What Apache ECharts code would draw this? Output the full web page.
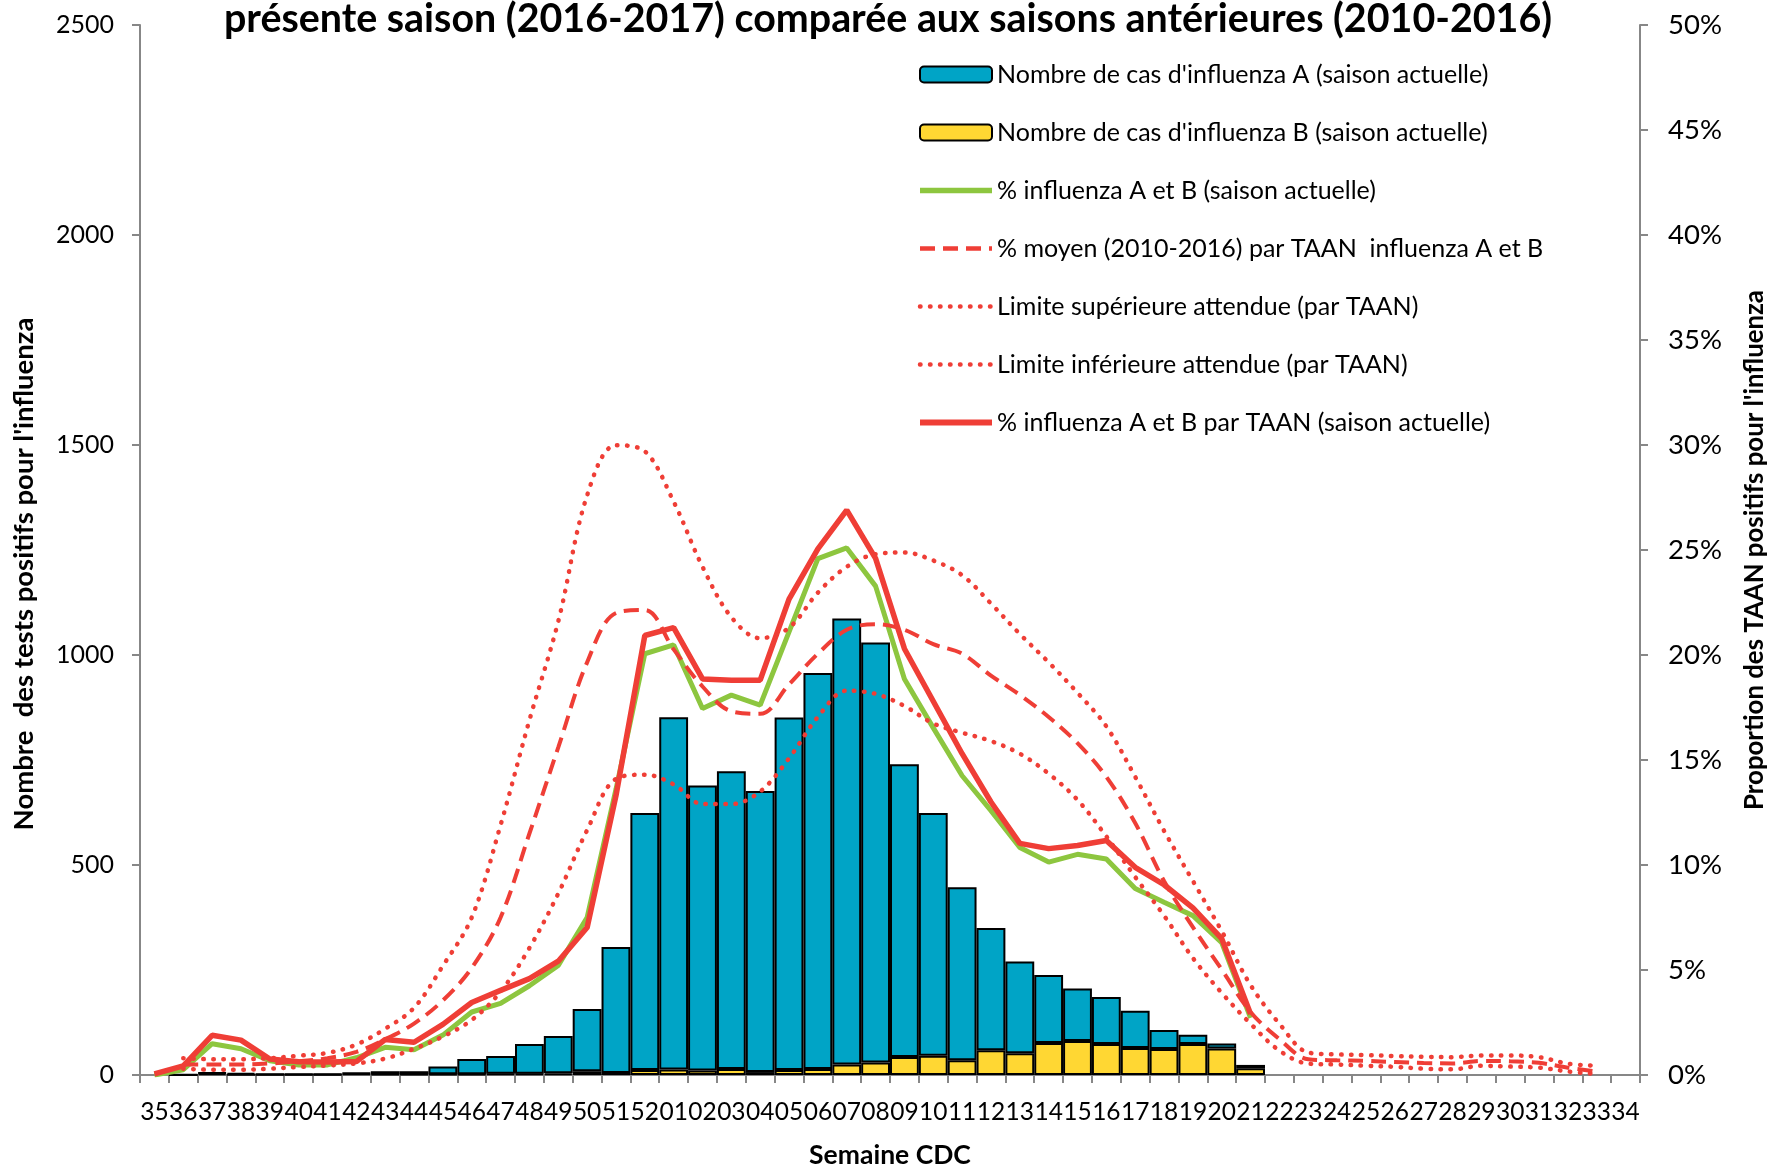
<!DOCTYPE html>
<html><head><meta charset="utf-8">
<script src="https://cdn.jsdelivr.net/npm/echarts@6/dist/echarts.min.js"></script>
<style>html,body{margin:0;padding:0;background:#fff}#c{width:1776px;height:1174px}</style>
</head><body><div id="c"></div>
<script>
const weeks = ['35','36','37','38','39','40','41','42','43','44','45','46','47','48','49','50','51','52',
  '01','02','03','04','05','06','07','08','09','10','11','12','13','14','15','16','17','18','19','20',
  '21','22','23','24','25','26','27','28','29','30','31','32','33','34'];
const casesA = [null,1,2,4,1,1,1,2,7,7,18,36,42,71,89,148,300,612,
  839,678,709,669,839,943,1062,1000,697,578,412,291,218,162,125,112,89,45,22,12,
  8,null,null,null,null,null,null,null,null,null,null,null,null,null];
const casesB = [null,0,4,1,1,1,1,3,2,2,2,2,3,3,4,9,5,12,
  13,11,14,7,12,14,25,30,43,46,35,59,52,76,81,74,64,62,74,63,
  16,null,null,null,null,null,null,null,null,null,null,null,null,null];
const pctAB = [0,0.25,1.49,1.25,0.68,0.48,0.48,0.82,1.32,1.2,1.9,3.0,3.41,4.25,5.22,7.5,13.6,20.06,
  20.48,17.45,18.09,17.61,21.1,24.59,25.1,23.28,18.86,16.53,14.25,12.59,10.83,10.14,10.51,10.29,8.88,8.23,7.59,6.3,
  2.72,null,null,null,null,null,null,null,null,null,null,null,null,null];
const pctTAAN = [0.05,0.43,1.89,1.66,0.76,0.63,0.62,0.64,1.69,1.56,2.41,3.45,4.03,4.59,5.42,7.02,13.3,20.93,
  21.3,18.86,18.8,18.8,22.66,25.05,26.9,24.6,20.3,17.8,15.3,13.0,11.03,10.78,10.93,11.17,9.89,9.06,7.96,6.49,
  2.91,null,null,null,null,null,null,null,null,null,null,null,null,null];
const avgTAAN = [null,0.5,0.5,0.5,0.55,0.65,0.8,1.1,1.7,2.45,3.55,5.1,7.5,11.5,15.6,19.65,22.0,22.14,
  20.27,18.5,17.32,17.2,18.6,20.06,21.2,21.47,21.2,20.52,20.06,19.02,18.1,17.05,15.8,14.2,12.0,9.24,7.04,5.02,
  3.0,1.71,0.75,0.7,0.67,0.62,0.57,0.55,0.67,0.65,0.58,0.35,0.17,null];
const upperLimit = [null,0.8,0.75,0.75,0.8,0.92,1.05,1.45,2.2,3.2,5.2,7.5,11.9,16.9,21.6,27.6,29.99,29.7,
  27.3,24.2,21.8,20.8,21.3,22.97,24.2,24.8,24.88,24.5,23.8,22.45,21.0,19.65,18.2,16.6,14.2,11.63,9.24,6.85,
  4.28,2.44,1.07,0.98,0.95,0.9,0.87,0.85,0.93,0.93,0.85,0.54,0.44,null];
const lowerLimit = [null,0.3,0.25,0.25,0.3,0.38,0.45,0.55,0.78,1.25,1.83,2.62,3.97,6.05,8.64,11.66,14.1,14.3,
  13.84,12.9,12.9,13.5,15.08,17.05,18.3,18.15,17.57,16.74,16.3,15.9,15.3,14.35,13.1,11.36,9.43,7.59,5.57,3.91,
  2.44,1.16,0.54,0.5,0.44,0.39,0.3,0.27,0.44,0.4,0.35,0.17,0.04,null];
const leftAxis = {min: 0, max: 2500, step: 500};
const rightAxis = {min: 0, max: 50, step: 5};

const names = {
  A: "Nombre de cas d'influenza A (saison actuelle)",
  B: "Nombre de cas d'influenza B (saison actuelle)",
  ab: "% influenza A et B (saison actuelle)",
  avg: "% moyen (2010-2016) par TAAN  influenza A et B",
  up: "Limite supérieure attendue (par TAAN)",
  lo: "Limite inférieure attendue (par TAAN)",
  taan: "% influenza A et B par TAAN (saison actuelle)"
};
const F = 'Lato, "DejaVu Sans", sans-serif';
const RED = '#EF3E36', GREEN = '#8DC63F', BLUE = '#00A4C6', YEL = '#FFD733', AX = '#878787';
const NOFILL = 'rgba(0,0,0,0)';
const DOT = [0.5, 9.5], DASH = [15, 8];

const chart = echarts.init(document.getElementById('c'), null, {renderer: 'canvas'});
chart.setOption({
  animation: false,
  backgroundColor: '#fff',
  textStyle: {fontFamily: F},
  title: {
    text: 'présente saison (2016-2017) comparée aux saisons antérieures (2010-2016)',
    left: 'center', top: -5,
    textStyle: {fontFamily: F, fontWeight: 'bold', fontSize: 39.4, color: '#000'}
  },
  legend: {
    orient: 'vertical', left: 912, top: 57,
    itemWidth: 72, itemHeight: 16, itemGap: 33,
    textStyle: {fontFamily: F, fontSize: 25, color: '#000', lineHeight: 25},
    data: [
      {name: names.A},
      {name: names.B},
      {name: names.ab, itemStyle: {color: NOFILL}, lineStyle: {width: 5.5}},
      {name: names.avg, itemStyle: {color: NOFILL}, lineStyle: {width: 4.5}},
      {name: names.up, itemStyle: {color: NOFILL}, lineStyle: {width: 4.5}},
      {name: names.lo, itemStyle: {color: NOFILL}, lineStyle: {width: 4.5}},
      {name: names.taan, itemStyle: {color: NOFILL}, lineStyle: {width: 6}}
    ]
  },
  grid: {left: 140, right: 131, top: 25, bottom: 89, containLabel: false},
  xAxis: {
    type: 'category', data: weeks, boundaryGap: true,
    axisLine: {show: true, lineStyle: {color: AX, width: 2}},
    axisTick: {show: true, length: 8, lineStyle: {color: AX, width: 2}},
    axisLabel: {interval: 0, fontSize: 24.5, color: '#000', margin: 25, fontFamily: F, hideOverlap: false},
    name: 'Semaine CDC', nameLocation: 'middle', nameGap: 67,
    nameTextStyle: {fontFamily: F, fontWeight: 'bold', fontSize: 26.5, color: '#000'}
  },
  yAxis: [{
    type: 'value', min: leftAxis.min, max: leftAxis.max, interval: leftAxis.step,
    axisLine: {show: true, lineStyle: {color: AX, width: 2}},
    axisTick: {show: true, length: 8, lineStyle: {color: AX, width: 2}},
    splitLine: {show: false},
    axisLabel: {fontSize: 25, color: '#000', margin: 26, fontFamily: F, formatter: (v) => String(v)},
    name: "Nombre  des tests positifs pour l'influenza", nameLocation: 'middle', nameRotate: 90, nameGap: 102,
    nameTextStyle: {fontFamily: F, fontWeight: 'bold', fontSize: 27.5, color: '#000', padding: [0, 48, 0, 0]}
  }, {
    type: 'value', position: 'right', min: rightAxis.min, max: rightAxis.max, interval: rightAxis.step,
    axisLine: {show: true, lineStyle: {color: AX, width: 2}},
    axisTick: {show: true, length: 8, lineStyle: {color: AX, width: 2}},
    splitLine: {show: false},
    axisLabel: {fontSize: 27.5, color: '#000', margin: 28, fontFamily: F, formatter: '{value}%'},
    name: "Proportion des TAAN positifs pour l'influenza", nameLocation: 'middle', nameRotate: 90, nameGap: 102,
    nameTextStyle: {fontFamily: F, fontWeight: 'bold', fontSize: 25.8, color: '#000'}
  }],
  series: [
    {name: names.B, type: 'bar', stack: 'cas', data: casesB, barCategoryGap: '0%',
      itemStyle: {color: YEL, borderColor: '#000', borderWidth: 2}},
    {name: names.A, type: 'bar', stack: 'cas', data: casesA, barCategoryGap: '0%',
      itemStyle: {color: BLUE, borderColor: '#000', borderWidth: 2}},
    {name: names.ab, type: 'line', yAxisIndex: 1, data: pctAB, symbol: 'none', connectNulls: false,
      lineStyle: {color: GREEN, width: 5}, itemStyle: {color: NOFILL}},
    {name: names.avg, type: 'line', yAxisIndex: 1, data: avgTAAN, symbol: 'none', smooth: 0.35,
      lineStyle: {color: RED, width: 4, type: DASH}, itemStyle: {color: NOFILL}},
    {name: names.up, type: 'line', yAxisIndex: 1, data: upperLimit, symbol: 'none', smooth: 0.35,
      lineStyle: {color: RED, width: 4.5, type: DOT, cap: 'round'}, itemStyle: {color: NOFILL}},
    {name: names.lo, type: 'line', yAxisIndex: 1, data: lowerLimit, symbol: 'none', smooth: 0.35,
      lineStyle: {color: RED, width: 4.5, type: DOT, cap: 'round'}, itemStyle: {color: NOFILL}},
    {name: names.taan, type: 'line', yAxisIndex: 1, data: pctTAAN, symbol: 'none',
      lineStyle: {color: RED, width: 5.5}, itemStyle: {color: NOFILL}}
  ]
});
</script></body></html>
